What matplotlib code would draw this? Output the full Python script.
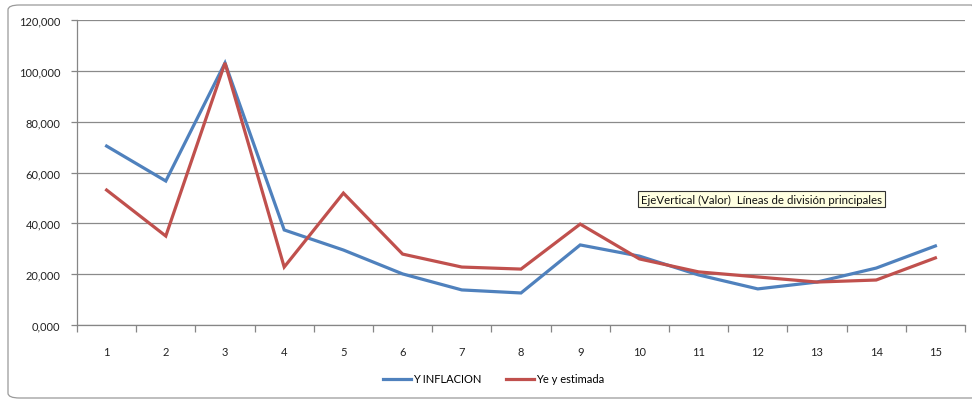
import matplotlib
matplotlib.use("Agg")
import matplotlib.pyplot as plt
from matplotlib.patches import FancyBboxPatch
from matplotlib.lines import Line2D

categories = [str(i) for i in range(1, 16)]
y_inflacion = [70400, 56650, 103100, 37400, 29500, 20100, 13800, 12600,
               31500, 27100, 19700, 14200, 16900, 22400, 31100]
ye_estimada = [53100, 35000, 103100, 22800, 51900, 27900, 22800, 22000,
               39700, 26000, 20900, 18900, 16900, 17700, 26400]
y_ticks = [0, 20000, 40000, 60000, 80000, 100000, 120000]
y_tick_labels = ["0,000", "20,000", "40,000", "60,000", "80,000", "100,000", "120,000"]
series_names = ["Y INFLACION", "Ye y estimada"]

plt.rcParams['font.family'] = ['Lato', 'DejaVu Sans']

fig = plt.figure(figsize=(9.72, 4.02), dpi=100)
W, H = 972, 402

# chart frame
frame = FancyBboxPatch((8 / W, 3 / H), 975 / W, 393 / H,
                       boxstyle="round,pad=0,rounding_size=0.012",
                       transform=fig.transFigure, fill=False,
                       edgecolor="#9a9a9a", linewidth=0.9, clip_on=False)
fig.patches.append(frame)

ax = fig.add_axes([77 / W, (402 - 326) / H, (965 - 77) / W, (326 - 21) / H])
x = list(range(1, len(categories) + 1))

blue = "#4F81BD"
red = "#C0504D"
ax.plot(x, y_inflacion, color=blue, linewidth=2.3, solid_joinstyle="miter")
ax.plot(x, ye_estimada, color=red, linewidth=2.3, solid_joinstyle="miter")

ax.set_xlim(0.5, len(categories) + 0.5)
ax.set_ylim(0, 120000)
ax.set_yticks(y_ticks)
ax.set_yticklabels(y_tick_labels)
ax.set_xticks(x)
ax.set_xticklabels(categories)
ax.set_xticks([i + 0.5 for i in range(0, len(categories) + 1)], minor=True)

ax.tick_params(axis="x", which="major", length=0, pad=15, labelsize=8, labelcolor="#222222")
ax.tick_params(axis="x", which="minor", length=5, width=0.9, color="#868686", direction="out")
ax.tick_params(axis="y", which="major", length=4, width=0.9, color="#868686", pad=8,
               labelsize=8, labelcolor="#222222")

ax.grid(axis="y", color="#8a8a8a", linewidth=0.9)
ax.set_axisbelow(True)
for s in ["top", "right"]:
    ax.spines[s].set_visible(False)
for s in ["left", "bottom"]:
    ax.spines[s].set_color("#868686")
    ax.spines[s].set_linewidth(0.9)

handles = [Line2D([0], [0], color=blue, linewidth=2.3),
           Line2D([0], [0], color=red, linewidth=2.3)]
fig.legend(handles, series_names, loc="center", bbox_to_anchor=(494 / W, 1 - 380 / H),
           ncol=2, frameon=False, fontsize=8, handlelength=2.5, handletextpad=0.2,
           columnspacing=2.2)

fig.text(641 / W, 1 - 200 / H, "EjeVertical (Valor)  Líneas de división principales",
         fontsize=8.3, va="center", ha="left", color="#111111",
         bbox=dict(boxstyle="square,pad=0.25", facecolor="#FFFFE1", edgecolor="#333333",
                   linewidth=0.8))

fig.savefig("out.png", dpi=100)
